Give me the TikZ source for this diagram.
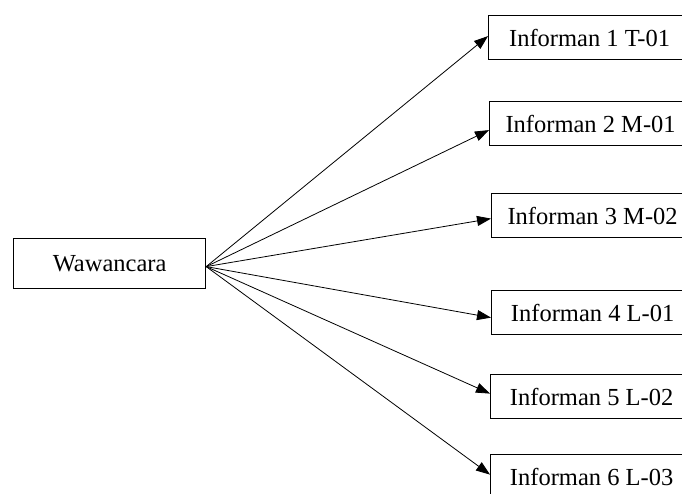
\documentclass[tikz,border=0pt]{standalone}
\usepackage{fontspec}
\setmainfont{Liberation Serif}
\usetikzlibrary{arrows.meta}
\begin{document}
\begin{tikzpicture}[x=1pt,y=-1pt,
  box/.style={draw,line width=1.2pt,rectangle,inner sep=0pt,font=\fontsize{24.5}{27}\selectfont},
  ibox/.style={box,minimum width=202pt,minimum height=44pt,anchor=north west},
  conn/.style={line width=0.8pt,-{Triangle[length=14pt,width=10pt]}}]
\useasboundingbox (0,0) rectangle (682,493);
\clip (0,0) rectangle (682,493);
\node[box,minimum width=192pt,minimum height=50pt,anchor=north west] (w) at (13,238) {Wawancara};
\node[ibox] (b1) at (488,15) {Informan 1 T-01};
\node[ibox] (b2) at (489,101) {Informan 2 M-01};
\node[ibox] (b3) at (491,193) {Informan 3 M-02};
\node[ibox] (b4) at (491,290) {Informan 4 L-01};
\node[ibox] (b5) at (490,374) {Informan 5 L-02};
\node[ibox] (b6) at (490,454) {Informan 6 L-03};
\coordinate (o) at ([yshift=-3pt]w.east);
\draw[conn] (o) -- ([yshift=1.5pt]b1.west);
\draw[conn] (o) -- ([yshift=-6.5pt]b2.west);
\draw[conn] (o) -- ([yshift=-3pt]b3.west);
\draw[conn] (o) -- ([yshift=-5pt]b4.west);
\draw[conn] (o) -- ([yshift=3pt]b5.west);
\draw[conn] (o) -- ([yshift=2pt]b6.west);
\end{tikzpicture}
\end{document}
